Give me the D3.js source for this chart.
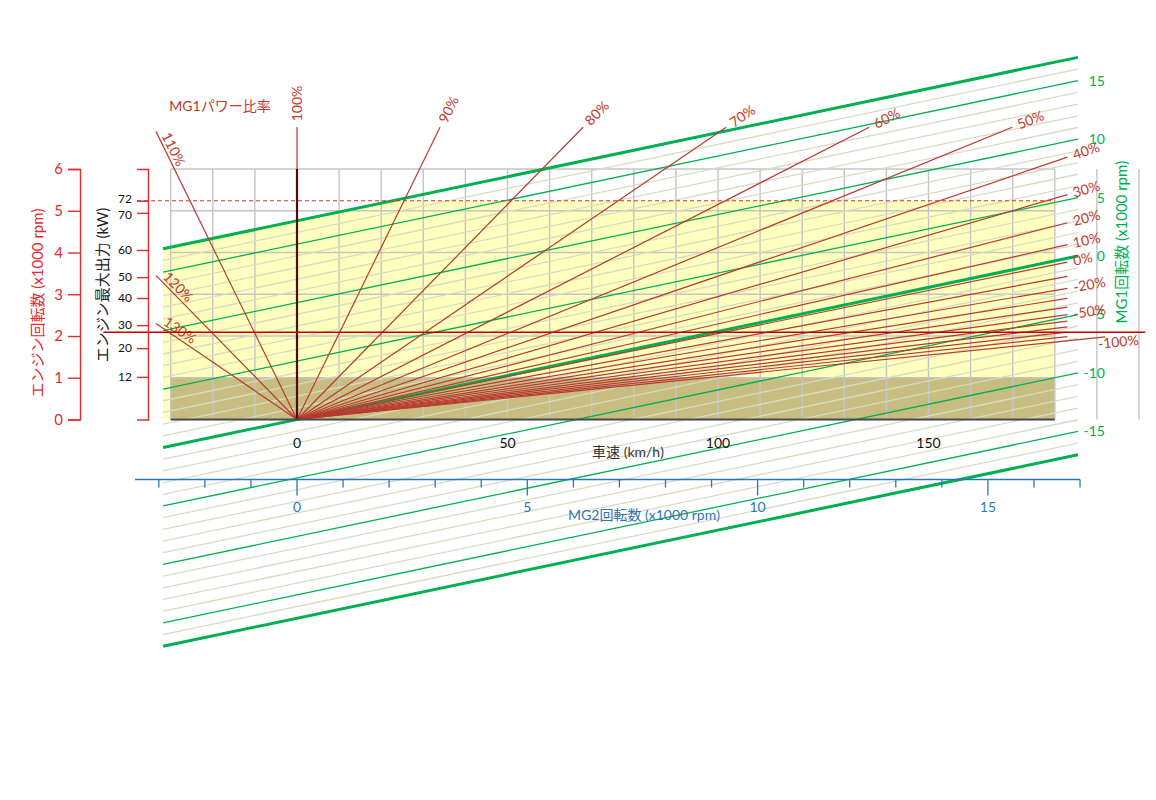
<!DOCTYPE html>
<html>
<head>
<meta charset="utf-8">
<script src="https://cdn.jsdelivr.net/npm/d3@7"></script>
<style>
body { margin: 0; background: #fff; }
text { font-family: Lato, "Noto Sans CJK JP", sans-serif; }
</style>
</head>
<body>
<svg id="chart" width="1156" height="800"></svg>
<script>
// ---- data (speed in km/h, rpm in x1000) ----
const speedTicks = [0, 50, 100, 150];
const gridSpeeds = [-30, -20, -10, 0, 10, 20, 30, 40, 50, 60, 70, 80, 90, 100, 110, 120, 130, 140, 150, 160, 170, 180, 190, 200];
const gridRpm = [0, 1, 2, 3, 4, 5, 6];
const engineTicks = [0, 1, 2, 3, 4, 5, 6];
const kwLabels = [72, 70, 60, 50, 40, 30, 20, 12];
const kwAtRpm = [5.24, 4.95, 4.06, 3.41, 2.91, 2.26, 1.71, 1.02];
const mg2Ticks = [-3, -2, -1, 0, 1, 2, 3, 4, 5, 6, 7, 8, 9, 10, 11, 12, 13, 14, 15, 16, 17];
const mg2Labels = [0, 5, 10, 15];
const mg1Levels = [-17, -16, -15, -14, -13, -12, -11, -10, -9, -8, -7, -6, -5, -4, -3, -2, -1,
                   0, 1, 2, 3, 4, 5, 6, 7, 8, 9, 10, 11, 12, 13, 14, 15, 16, 17];
const mg1Labels = [15, 10, 5, 0, -5, -10, -15];
const fanRatios = [130, 120, 110, 100, 90, 80, 70, 60, 50, 40, 30, 20, 10, 0,
                   -10, -20, -30, -40, -50, -60, -70, -80, -90, -100];
const fanLabels = [130, 120, 110, 100, 90, 80, 70, 60, 50, 40, 30, 20, 10, 0, -20, -50, -100];
const kwLimitRpm = 5.24;      // 72 kW
const idleRpm = 1.0;          // olive band
const refRpm = 2.09;          // long horizontal red line

// gear relations
const mg2PerKmh = 0.0914;     // MG2 krpm per km/h
const mg1Slope = 0.0211;      // engine krpm per km/h on MG1 = const lines
const mg1Gain = 0.28;         // engine krpm per MG1 krpm
const fanSlope = 0.0206;      // engine krpm per km/h on 0% line
const mg1Span = [-31.8, 185.5];
const fanLimits = {eMax: 7.0, vMin: -33.5, vMax: 183, vMaxLong: 192};
const gridRight = 180;

const svg = d3.select('#chart');

const x = d3.scaleLinear().domain([0, 150]).range([297, 928.5]);
const y = d3.scaleLinear().domain([0, 6]).range([419.5, 169]);
const xMg2 = d3.scaleLinear().domain([0, 150 * mg2PerKmh]).range(x.range());

const RED = '#b83a30', RED_LABEL = '#c0392b', AXIS_RED = '#e32b2b';
const GREEN = '#00b050', LIGHT = '#d7dcc0', BLUE = '#2e75b6', GRID = '#c4c4c4';

const mg1Rpm = (v, m) => mg1Slope * v + mg1Gain * m;

// ---- yellow operating region ----
const vCorner = (kwLimitRpm - mg1Gain * 17) / mg1Slope;
const region = [
  [mg1Span[0], 0],
  [mg1Span[0], mg1Rpm(mg1Span[0], 17)],
  [vCorner, kwLimitRpm],
  [gridRight, kwLimitRpm],
  [gridRight, 0]
];
svg.append('path')
  .attr('d', d3.line().x(d => x(d[0])).y(d => y(d[1]))(region) + 'Z')
  .attr('fill', '#ffffbe');

svg.append('rect')
  .attr('x', x(-30)).attr('y', y(idleRpm))
  .attr('width', x(gridRight) - x(-30)).attr('height', y(0) - y(idleRpm))
  .attr('fill', '#c8bd80');

// ---- grid ----
const grid = svg.append('g').attr('stroke', GRID).attr('stroke-width', 1.4);
grid.selectAll('.gv').data(gridSpeeds).join('line')
  .attr('x1', d => x(d)).attr('x2', d => x(d))
  .attr('y1', y(0)).attr('y2', y(6));
grid.selectAll('.gh').data(gridRpm).join('line')
  .attr('x1', x(-30)).attr('x2', x(gridRight))
  .attr('y1', d => y(d)).attr('y2', d => y(d));

// ---- MG1 constant speed lines ----
svg.append('g').selectAll('line').data(mg1Levels).join('line')
  .attr('x1', x(mg1Span[0])).attr('x2', x(mg1Span[1]))
  .attr('y1', d => y(mg1Rpm(mg1Span[0], d)))
  .attr('y2', d => y(mg1Rpm(mg1Span[1], d)))
  .attr('stroke', d => (d % 5 === 0 || Math.abs(d) === 17) ? GREEN : LIGHT)
  .attr('stroke-width', d => (d === 0 || Math.abs(d) === 17) ? 3 : 1.3);

svg.append('g').selectAll('text').data(mg1Labels).join('text')
  .attr('x', x(mg1Span[1]) + 27)
  .attr('y', d => y(mg1Rpm(mg1Span[1], d)))
  .attr('dy', '0.35em')
  .attr('text-anchor', 'end')
  .attr('fill', GREEN)
  .attr('font-size', 14)
  .text(d => d);

// ---- MG1 power ratio fan ----
function fanEnd(r) {
  const k = 1 - r / 100;
  if (k === 0) return {v: 0, e: fanLimits.eMax};
  let v = k * fanLimits.eMax / fanSlope;
  if (k > 0) v = Math.min(v, r === -100 ? fanLimits.vMaxLong : fanLimits.vMax);
  else v = Math.max(v, fanLimits.vMin);
  return {v: v, e: v * fanSlope / k};
}

const fan = svg.append('g');
fanRatios.forEach(r => {
  const end = fanEnd(r);
  fan.append('line')
    .attr('x1', x(0)).attr('y1', y(0))
    .attr('x2', x(end.v)).attr('y2', y(end.e))
    .attr('stroke', RED).attr('stroke-width', 1.2);
});

// zero-speed line and base line
svg.append('line')
  .attr('x1', x(0)).attr('x2', x(0)).attr('y1', y(0)).attr('y2', y(6))
  .attr('stroke', '#4a0c0c').attr('stroke-width', 2.2);
svg.append('line')
  .attr('x1', x(-30)).attr('x2', x(gridRight)).attr('y1', y(0)).attr('y2', y(0))
  .attr('stroke', '#4a4a4a').attr('stroke-width', 2);

// 72 kW dashed limit
svg.append('line')
  .attr('x1', 137).attr('x2', x(gridRight))
  .attr('y1', y(kwLimitRpm)).attr('y2', y(kwLimitRpm))
  .attr('stroke', AXIS_RED).attr('stroke-width', 1.2)
  .attr('stroke-dasharray', '4,3');

// long horizontal reference
svg.append('line')
  .attr('x1', x(-46)).attr('x2', x(201.5))
  .attr('y1', y(refRpm)).attr('y2', y(refRpm))
  .attr('stroke', '#c00000').attr('stroke-width', 1.3);

// fan labels
fanLabels.forEach(r => {
  const end = fanEnd(r);
  const px = x(end.v), py = y(end.e);
  let deg = Math.atan2(py - y(0), px - x(0)) * 180 / Math.PI;
  const g = fan.append('g');
  const t = g.append('text')
    .attr('fill', RED_LABEL).attr('font-size', 14)
    .text(r + '%');
  if (r > 100) {
    deg += 180;
    t.attr('x', 6).attr('dy', -3);
  } else if (r === -100) {
    t.attr('x', -8).attr('dy', '0.8em');
  } else {
    t.attr('x', 6).attr('dy', '0.35em');
  }
  g.attr('transform', `translate(${px},${py}) rotate(${deg})`);
});

svg.append('text')
  .attr('x', 220).attr('y', 106).attr('dy', '0.35em')
  .attr('text-anchor', 'middle')
  .attr('fill', RED_LABEL).attr('font-size', 14)
  .text('MG1パワー比率');

// ---- left axes ----
const engAxis = svg.append('g')
  .attr('transform', 'translate(80,0)')
  .call(d3.axisLeft(y).tickValues(engineTicks).tickSize(12).tickPadding(5)
    .tickFormat(d3.format('d')));
engAxis.selectAll('path, line').attr('stroke', AXIS_RED).attr('stroke-width', 1.4);
engAxis.selectAll('text').attr('fill', AXIS_RED).attr('font-size', 15);

const kwAxis = svg.append('g')
  .attr('transform', 'translate(148,0)')
  .call(d3.axisLeft(y).tickValues(kwAtRpm).tickSize(11).tickPadding(5)
    .tickFormat((d, i) => kwLabels[i]));
kwAxis.selectAll('path, line').attr('stroke', AXIS_RED).attr('stroke-width', 1.4);
// 72 and 70 sit very close: nudge them apart a little
kwAxis.selectAll('text').attr('fill', '#111').attr('font-size', 12)
  .attr('transform', (d, i) => i === 0 ? 'translate(0,-1.8)' : i === 1 ? 'translate(0,1.8)' : null);

svg.append('text')
  .attr('transform', 'translate(38,303) rotate(-90)')
  .attr('text-anchor', 'middle').attr('dy', '0.35em')
  .attr('fill', AXIS_RED).attr('font-size', 15)
  .text('エンジン回転数 (x1000 rpm)');
svg.append('text')
  .attr('transform', 'translate(103,285) rotate(-90)')
  .attr('text-anchor', 'middle').attr('dy', '0.35em')
  .attr('fill', '#222').attr('font-size', 15)
  .text('エンジン最大出力 (kW)');

svg.append('text')
  .attr('transform', 'translate(1122,242) rotate(-90)')
  .attr('text-anchor', 'middle').attr('dy', '0.35em')
  .attr('fill', GREEN).attr('font-size', 15)
  .text('MG1回転数 (x1000 rpm)');

// ---- speed labels ----
svg.append('g').selectAll('text').data(speedTicks).join('text')
  .attr('x', d => x(d)).attr('y', 443).attr('dy', '0.35em')
  .attr('text-anchor', 'middle').attr('fill', '#111').attr('font-size', 14)
  .text(d => d);
svg.append('text')
  .attr('x', 628).attr('y', 452).attr('dy', '0.35em')
  .attr('text-anchor', 'middle').attr('fill', '#333').attr('font-size', 14)
  .text('車速 (km/h)');

// ---- MG2 axis ----
const mg2Axis = svg.append('g').attr('transform', 'translate(0,479.5)');
mg2Axis.append('line')
  .attr('x1', 135).attr('x2', xMg2(17))
  .attr('stroke', BLUE).attr('stroke-width', 1.3);
mg2Axis.selectAll('.tick').data(mg2Ticks).join('line')
  .attr('x1', d => xMg2(d)).attr('x2', d => xMg2(d))
  .attr('y1', 0).attr('y2', d => d % 5 === 0 ? 16 : 8)
  .attr('stroke', BLUE).attr('stroke-width', 1.3);
mg2Axis.selectAll('text').data(mg2Labels).join('text')
  .attr('x', d => xMg2(d)).attr('y', 28).attr('dy', '0.35em')
  .attr('text-anchor', 'middle').attr('fill', BLUE).attr('font-size', 14)
  .text(d => d);
svg.append('text')
  .attr('x', 644).attr('y', 515).attr('dy', '0.35em')
  .attr('text-anchor', 'middle').attr('fill', BLUE).attr('font-size', 14)
  .text('MG2回転数 (x1000 rpm)');
</script>
</body>
</html>
